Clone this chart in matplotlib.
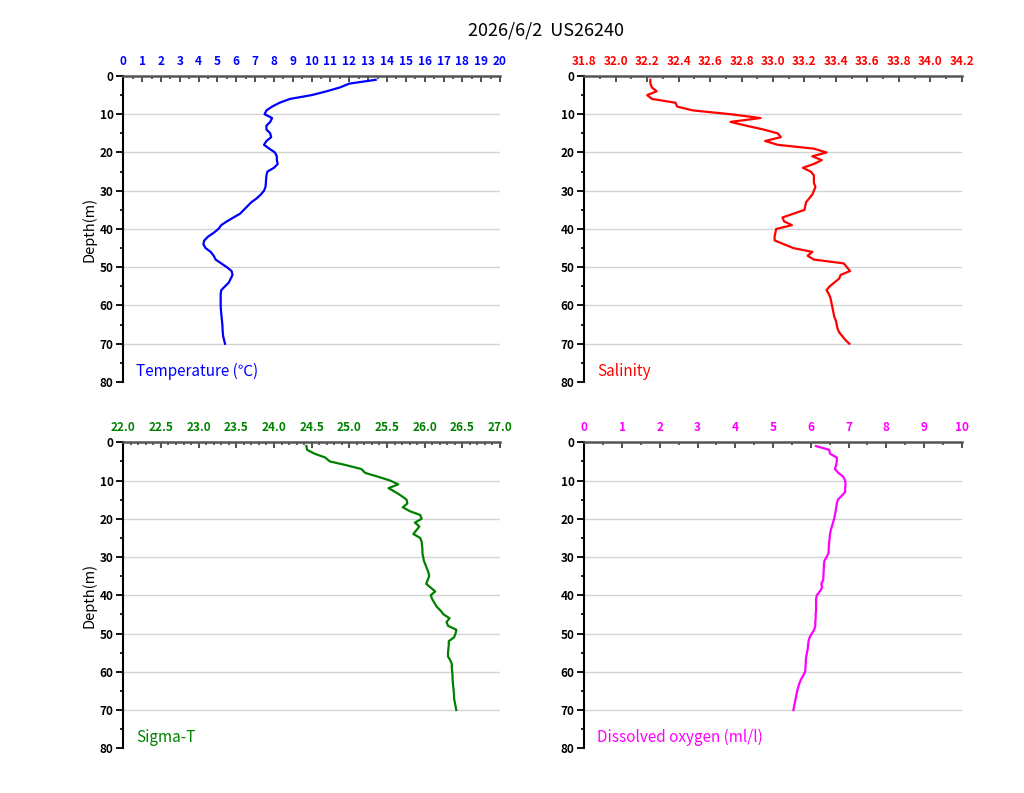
import numpy as np
import matplotlib
matplotlib.use('Agg')
import matplotlib.pyplot as plt
from matplotlib.ticker import MultipleLocator

plt.rcParams['font.family'] = ['Noto Sans CJK JP', 'DejaVu Sans']
plt.rcParams['font.weight'] = 'bold'

title = '2026/6/2  US26240'

depth = list(range(1, 71))

temperature = [13.4, 12.0, 11.5, 10.8, 10.0, 8.85, 8.3, 7.9, 7.6, 7.5,
               7.9, 7.8, 7.6, 7.6, 7.8, 7.85, 7.6, 7.47, 7.75, 8.05,
               8.15, 8.15, 8.2, 8.0, 7.65, 7.6, 7.58, 7.57, 7.55, 7.47,
               7.3, 7.08, 6.8, 6.6, 6.4, 6.2, 5.85, 5.5, 5.2, 5.05,
               4.8, 4.5, 4.3, 4.25, 4.37, 4.64, 4.8, 4.9, 5.2, 5.5,
               5.75, 5.8, 5.7, 5.6, 5.4, 5.2, 5.17, 5.17, 5.17, 5.17,
               5.18, 5.2, 5.22, 5.24, 5.26, 5.27, 5.28, 5.3, 5.35, 5.4]

salinity = [32.22, 32.22, 32.23, 32.26, 32.20, 32.23, 32.38, 32.39, 32.49, 32.73,
            32.92, 32.73, 32.83, 32.94, 33.03, 33.05, 32.95, 33.03, 33.26, 33.34,
            33.25, 33.31, 33.26, 33.19, 33.24, 33.26, 33.26, 33.26, 33.27, 33.26,
            33.25, 33.23, 33.21, 33.205, 33.20, 33.13, 33.06, 33.07, 33.12, 33.02,
            33.015, 33.01, 33.01, 33.07, 33.13, 33.25, 33.22, 33.26, 33.45, 33.47,
            33.49, 33.43, 33.42, 33.39, 33.36, 33.34, 33.355, 33.365, 33.37, 33.375,
            33.38, 33.385, 33.39, 33.40, 33.405, 33.41, 33.42, 33.44, 33.46, 33.485]

sigma_t = [24.43, 24.44, 24.54, 24.68, 24.74, 24.96, 25.16, 25.21, 25.38, 25.54,
           25.65, 25.52, 25.61, 25.69, 25.76, 25.77, 25.71, 25.80, 25.94, 25.96,
           25.87, 25.93, 25.89, 25.85, 25.94, 25.96, 25.965, 25.97, 25.97, 25.98,
           25.99, 26.01, 26.03, 26.05, 26.06, 26.04, 26.02, 26.08, 26.14, 26.08,
           26.10, 26.13, 26.16, 26.21, 26.25, 26.33, 26.29, 26.31, 26.42, 26.41,
           26.39, 26.32, 26.32, 26.315, 26.31, 26.31, 26.34, 26.36, 26.36, 26.365,
           26.37, 26.37, 26.375, 26.38, 26.385, 26.39, 26.39, 26.40, 26.41, 26.42]

oxygen = [6.14, 6.49, 6.51, 6.69, 6.69, 6.67, 6.64, 6.73, 6.86, 6.91,
          6.92, 6.91, 6.91, 6.82, 6.72, 6.69, 6.675, 6.66, 6.64, 6.62,
          6.59, 6.56, 6.53, 6.51, 6.50, 6.49, 6.48, 6.475, 6.47, 6.42,
          6.36, 6.35, 6.345, 6.34, 6.335, 6.33, 6.28, 6.30, 6.24, 6.16,
          6.14, 6.14, 6.14, 6.14, 6.13, 6.13, 6.12, 6.12, 6.09, 6.03,
          5.97, 5.94, 5.93, 5.92, 5.90, 5.88, 5.87, 5.865, 5.86, 5.85,
          5.80, 5.74, 5.70, 5.67, 5.64, 5.62, 5.60, 5.58, 5.56, 5.54]

# (values, label, colour, xlim, major, minor, tick format, axes rect)
panels = [
    (temperature, 'Temperature (℃)', '#0000ff', (0, 20), 1, 0.5, '%d',
     [0.1204, 0.5183, 0.3679, 0.3859]),
    (salinity, 'Salinity', '#ff0000', (31.8, 34.2), 0.2, 0.1, '%.1f',
     [0.5706, 0.5183, 0.3686, 0.3859]),
    (sigma_t, 'Sigma-T', '#008000', (22.0, 27.0), 0.5, 0.1, '%.1f',
     [0.1204, 0.0564, 0.3679, 0.3859]),
    (oxygen, 'Dissolved oxygen (ml/l)', '#ff00ff', (0, 10), 1, 0.5, '%d',
     [0.5706, 0.0564, 0.3686, 0.3859]),
]

fig = plt.figure(figsize=(10.24, 7.93), dpi=100)
fig.text(0.533, 0.962, title, ha='center', va='center', fontsize=13,
         fontweight='normal')

for i, (vals, label, col, xlim, major, minor, fmt, rect) in enumerate(panels):
    ax = fig.add_axes(rect)
    for d in range(10, 80, 10):
        ax.axhline(d, color='#d3d3d3', lw=1, zorder=0)
    ax.plot(vals, depth, color=col, lw=1.6, zorder=3)

    ax.set_xlim(*xlim)
    ax.set_ylim(80, 0)
    ax.xaxis.tick_top()
    ax.xaxis.set_major_locator(MultipleLocator(major))
    ax.xaxis.set_minor_locator(MultipleLocator(minor))
    ax.xaxis.set_major_formatter(matplotlib.ticker.FormatStrFormatter(fmt))
    ax.yaxis.set_major_locator(MultipleLocator(10))
    ax.yaxis.set_minor_locator(MultipleLocator(5))

    ax.spines['right'].set_visible(False)
    ax.spines['bottom'].set_visible(False)
    ax.spines['top'].set_color('#555555')
    ax.spines['top'].set_linewidth(1.8)
    ax.spines['left'].set_color('black')
    ax.spines['left'].set_linewidth(1.5)

    ax.tick_params(axis='x', which='major', direction='in', length=4, width=1.3,
                   color='#444444', labelcolor=col, labelsize=8.5, pad=6)
    ax.tick_params(axis='x', which='minor', direction='in', length=2.5, width=1.2,
                   color='#444444')
    ax.tick_params(axis='y', which='major', direction='out', length=5, width=1.3,
                   color='black', labelsize=8.5, pad=2)
    ax.tick_params(axis='y', which='minor', direction='out', length=2.5, width=1.2,
                   color='black')

    if i % 2 == 0:
        ax.set_ylabel('Depth(m)', fontsize=10.5, fontweight='normal', labelpad=2)

    ax.text(0.034, 0.034, label, transform=ax.transAxes, color=col,
            fontsize=11, fontweight='normal', ha='left', va='center')

fig.savefig('out.png', dpi=100)
